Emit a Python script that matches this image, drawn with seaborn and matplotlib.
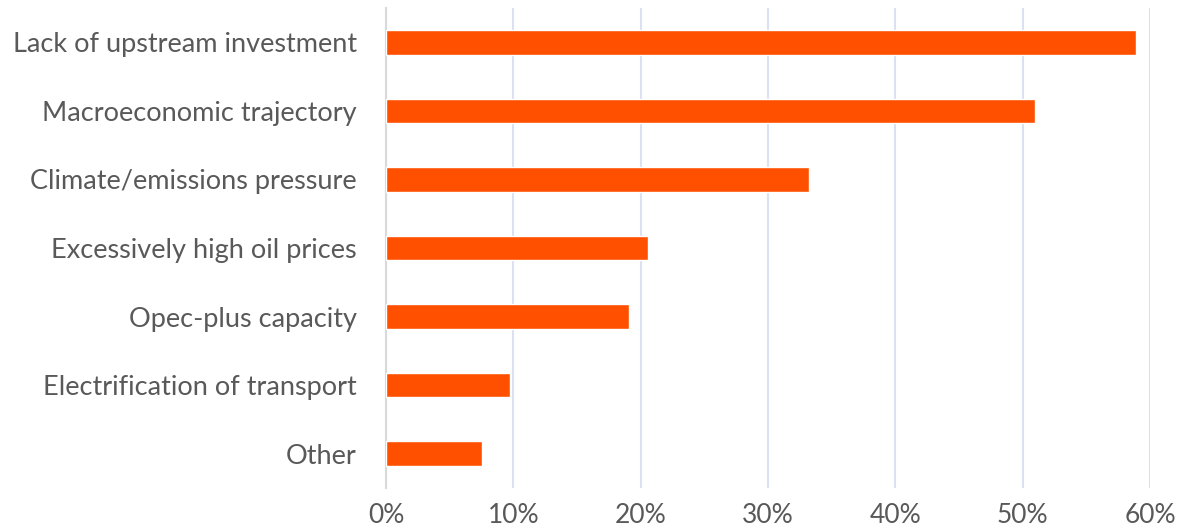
import matplotlib
matplotlib.use("Agg")
import matplotlib.pyplot as plt
import seaborn as sns
import pandas as pd
from matplotlib.ticker import FuncFormatter, MultipleLocator

categories = [
    "Lack of upstream investment",
    "Macroeconomic trajectory",
    "Climate/emissions pressure",
    "Excessively high oil prices",
    "Opec-plus capacity",
    "Electrification of transport",
    "Other",
]
values = [0.589, 0.510, 0.332, 0.206, 0.191, 0.097, 0.075]

sns.set_theme(style="white")
plt.rcParams['font.family'] = ['Lato', 'DejaVu Sans']

df = pd.DataFrame({"factor": categories, "share": values})

fig = plt.figure(figsize=(11.85, 5.32), dpi=100)
ax = fig.add_axes([386/1185, 1 - 488/532, (1150 - 386)/1185, (488 - 8)/532])

sns.barplot(data=df, x="share", y="factor", orient="h", color="#FF5000",
            saturation=1, width=0.36, ax=ax, zorder=3)

ax.set_xlim(0, 0.6)
ax.set_ylim(6.5, -0.5)
ax.xaxis.set_major_locator(MultipleLocator(0.1))
ax.xaxis.set_major_formatter(FuncFormatter(lambda v, p: f"{v*100:.0f}%"))
ax.grid(axis="x", color="#D9E1F2", linewidth=1.5, zorder=0)
ax.grid(axis="y", visible=False)
for s in ["top", "right", "bottom"]:
    ax.spines[s].set_visible(False)
ax.spines["left"].set_color("#D9D9D9")
ax.spines["left"].set_linewidth(1.5)
ax.set_xlabel("")
ax.set_ylabel("")
ax.tick_params(axis="y", length=0, pad=21, labelsize=19.5, labelcolor="#595959")
ax.tick_params(axis="x", length=0, pad=11, labelsize=19, labelcolor="#595959")

fig.savefig("out.png", dpi=100)
